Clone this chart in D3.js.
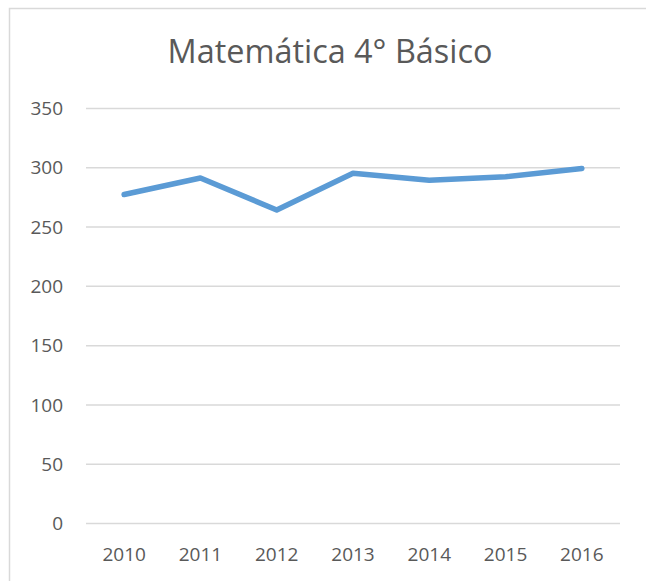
<!DOCTYPE html>
<html>
<head>
<meta charset="utf-8">
<script src="https://cdn.jsdelivr.net/npm/d3@7"></script>
<style>
  body { margin: 0; background: #fff; }
  svg { display: block; }
</style>
</head>
<body>
<svg id="chart"></svg>
<script>
// data
var chartTitle = "Matemática 4° Básico";
var years = ["2010", "2011", "2012", "2013", "2014", "2015", "2016"];
var scores = [277, 291, 264, 295, 289, 292, 299];
var yTicks = [0, 50, 100, 150, 200, 250, 300, 350];

// canvas
var svg = d3.select("#chart");
svg.width = 646;
svg.height = 581;
svg.attr("width", svg.width).attr("height", svg.height);

var plot = { left: 86, right: 620, top: 108, bottom: 523 };

var textColor = "#595959",
    gridColor = "#d9d9d9",
    lineColor = "#5b9bd5",
    fontFam = "'Open Sans', 'DejaVu Sans', sans-serif";

// outer chart frame (runs off the right and bottom edge)
svg.append("rect")
   .attr("x", 9.5).attr("y", 8.5)
   .attr("width", 700).attr("height", 700)
   .attr("fill", "#fff")
   .attr("stroke", gridColor)
   .attr("stroke-width", 1.5);

// scales
var x = d3.scaleBand()
          .domain(years)
          .range([plot.left, plot.right]);
var y = d3.scaleLinear()
          .domain([0, 350])
          .range([plot.bottom, plot.top]);

// gridlines
svg.append("g").selectAll("line")
   .data(yTicks)
   .enter().append("line")
   .attr("x1", plot.left).attr("x2", plot.right)
   .attr("y1", function(d){ return y(d) + 0.5; })
   .attr("y2", function(d){ return y(d) + 0.5; })
   .attr("stroke", gridColor)
   .attr("stroke-width", 1.5);

// y axis
var yAxis = svg.append("g")
   .attr("transform", "translate(" + (plot.left - 23) + ",0)")
   .call(d3.axisLeft(y).tickValues(yTicks).tickSize(0).tickPadding(0));
yAxis.select(".domain").remove();
yAxis.selectAll("text")
   .attr("fill", textColor)
   .attr("font-family", fontFam)
   .attr("font-size", "19px")
   .attr("dy", "0.35em");

// x axis
var xAxis = svg.append("g")
   .attr("transform", "translate(0," + plot.bottom + ")")
   .call(d3.axisBottom(x).tickSize(0).tickPadding(0));
xAxis.select(".domain").remove();
xAxis.selectAll("text")
   .attr("fill", textColor)
   .attr("font-family", fontFam)
   .attr("font-size", "19px")
   .attr("dy", "0")
   .attr("y", 38);

// line
var line = d3.line()
   .x(function(d, i){ return x(years[i]) + x.bandwidth() / 2; })
   .y(function(d){ return y(d); });

svg.append("path")
   .datum(scores)
   .attr("d", line)
   .attr("fill", "none")
   .attr("stroke", lineColor)
   .attr("stroke-width", 5.5)
   .attr("stroke-linecap", "round")
   .attr("stroke-linejoin", "round");

// title, sized to match the reference width
var title = svg.append("text")
   .attr("x", 330)
   .attr("y", 63)
   .attr("text-anchor", "middle")
   .attr("fill", textColor)
   .attr("font-family", fontFam)
   .attr("font-size", "30px")
   .text(chartTitle);
var w = title.node().getComputedTextLength();
if (w > 0) title.attr("font-size", (30 * 325 / w).toFixed(2) + "px");
</script>
</body>
</html>
